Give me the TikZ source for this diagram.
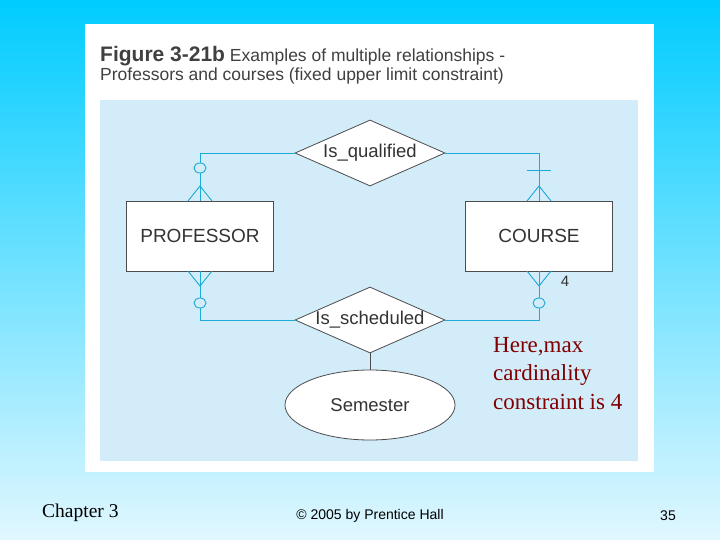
\documentclass[tikz,border=0pt]{standalone}
\usepackage{fontspec}
\setmainfont{Liberation Sans}
\newfontfamily\timesf{Liberation Serif}
\usetikzlibrary{shapes.geometric}
\definecolor{cyanT}{RGB}{0,204,255}
\definecolor{cyanB}{RGB}{225,247,255}
\definecolor{inner}{RGB}{210,236,250}
\definecolor{er}{RGB}{30,170,215}
\definecolor{dred}{RGB}{128,0,0}
\begin{document}
\begin{tikzpicture}[x=1pt,y=-1pt,
  ent/.style={draw=black!70,line width=0.8pt,fill=white,minimum width=147pt,minimum height=70pt,inner sep=0pt,font=\fontsize{19}{21}\selectfont,text=black!80},
  rel/.style={diamond,draw=black!70,line width=0.8pt,fill=white,aspect=2.27,minimum width=150pt,minimum height=66pt,inner sep=0pt,font=\fontsize{18.5}{21}\selectfont,text=black!80},
  ln/.style={draw=er,line width=0.9pt}]
\useasboundingbox (0,0) rectangle (720,540);
\shade[top color=cyanT,bottom color=cyanB] (0,0) rectangle (720,540);
\fill[white] (85,24) rectangle (654,472);
\fill[inner] (100,100) rectangle (638,461);
\node[anchor=base west,text=black!75,font=\fontsize{17.5}{20}\selectfont,inner sep=0pt] (t1) at (100,62) {\textbf{\fontsize{21}{22}\selectfont Figure 3-21b}\ Examples of multiple relationships -};
\node[anchor=base west,text=black!75,font=\fontsize{17.5}{20}\selectfont,inner sep=0pt] (t2) at (100,81) {Professors and courses (fixed upper limit constraint)};
\node[ent] (prof) at (200,236) {PROFESSOR};
\node[ent] (course) at (539,236) {COURSE};
\node[rel] (q) at (370,153) {Is\_qualified};
\node[rel] (s) at (370,320) {Is\_scheduled};
\node[ellipse,draw=black!70,line width=0.8pt,fill=white,minimum width=170pt,minimum height=70pt,font=\fontsize{18.5}{21}\selectfont,text=black!80] (sem) at (370,405) {Semester};
\coordinate (pt) at (200,153); \coordinate (ct) at (539,153);
\coordinate (pb) at (200,320); \coordinate (cb) at (539,320);
\draw[ln] (prof.north) -- (pt) -- (q.west);
\draw[ln] (q.east) -- (ct) -- (course.north);
\draw[ln] (prof.south) -- (pb) -- (s.west);
\draw[ln] (s.east) -- (cb) -- (course.south);
\draw[draw=black!70,line width=0.8pt] (s.south) -- (sem.north);
% crow's feet
\draw[ln] (188,201) -- (200,186) -- (212,201);
\draw[ln] (188,271) -- (200,286) -- (212,271);
\draw[ln] (527,201) -- (539,186) -- (551,201);
\draw[ln] (527,271) -- (539,286) -- (551,271);
\draw[ln,fill=inner] (200,168) ellipse (6pt and 5pt);
\draw[ln,fill=inner] (200,303) ellipse (6pt and 5pt);
\draw[ln,fill=inner] (539,303) ellipse (6pt and 5pt);
\draw[ln] (527,170) -- (551,170);
\node[font=\fontsize{15}{17}\selectfont,text=black!80] (four) at (565,281) {4};
\node[anchor=north west,align=left,text=dred,font=\timesf\fontsize{23}{28.5}\selectfont,inner sep=0pt] (note) at (493,337) {Here,max\\cardinality\\constraint is 4};
\node[anchor=base west,font=\timesf\fontsize{19.5}{20}\selectfont,inner sep=0pt] (ch) at (42,517) {Chapter 3};
\node[font=\fontsize{14}{16}\selectfont] (cp) at (370,516) {© 2005 by Prentice Hall};
\node[font=\fontsize{14}{16}\selectfont] (pg) at (668,516) {35};
\end{tikzpicture}
\end{document}
